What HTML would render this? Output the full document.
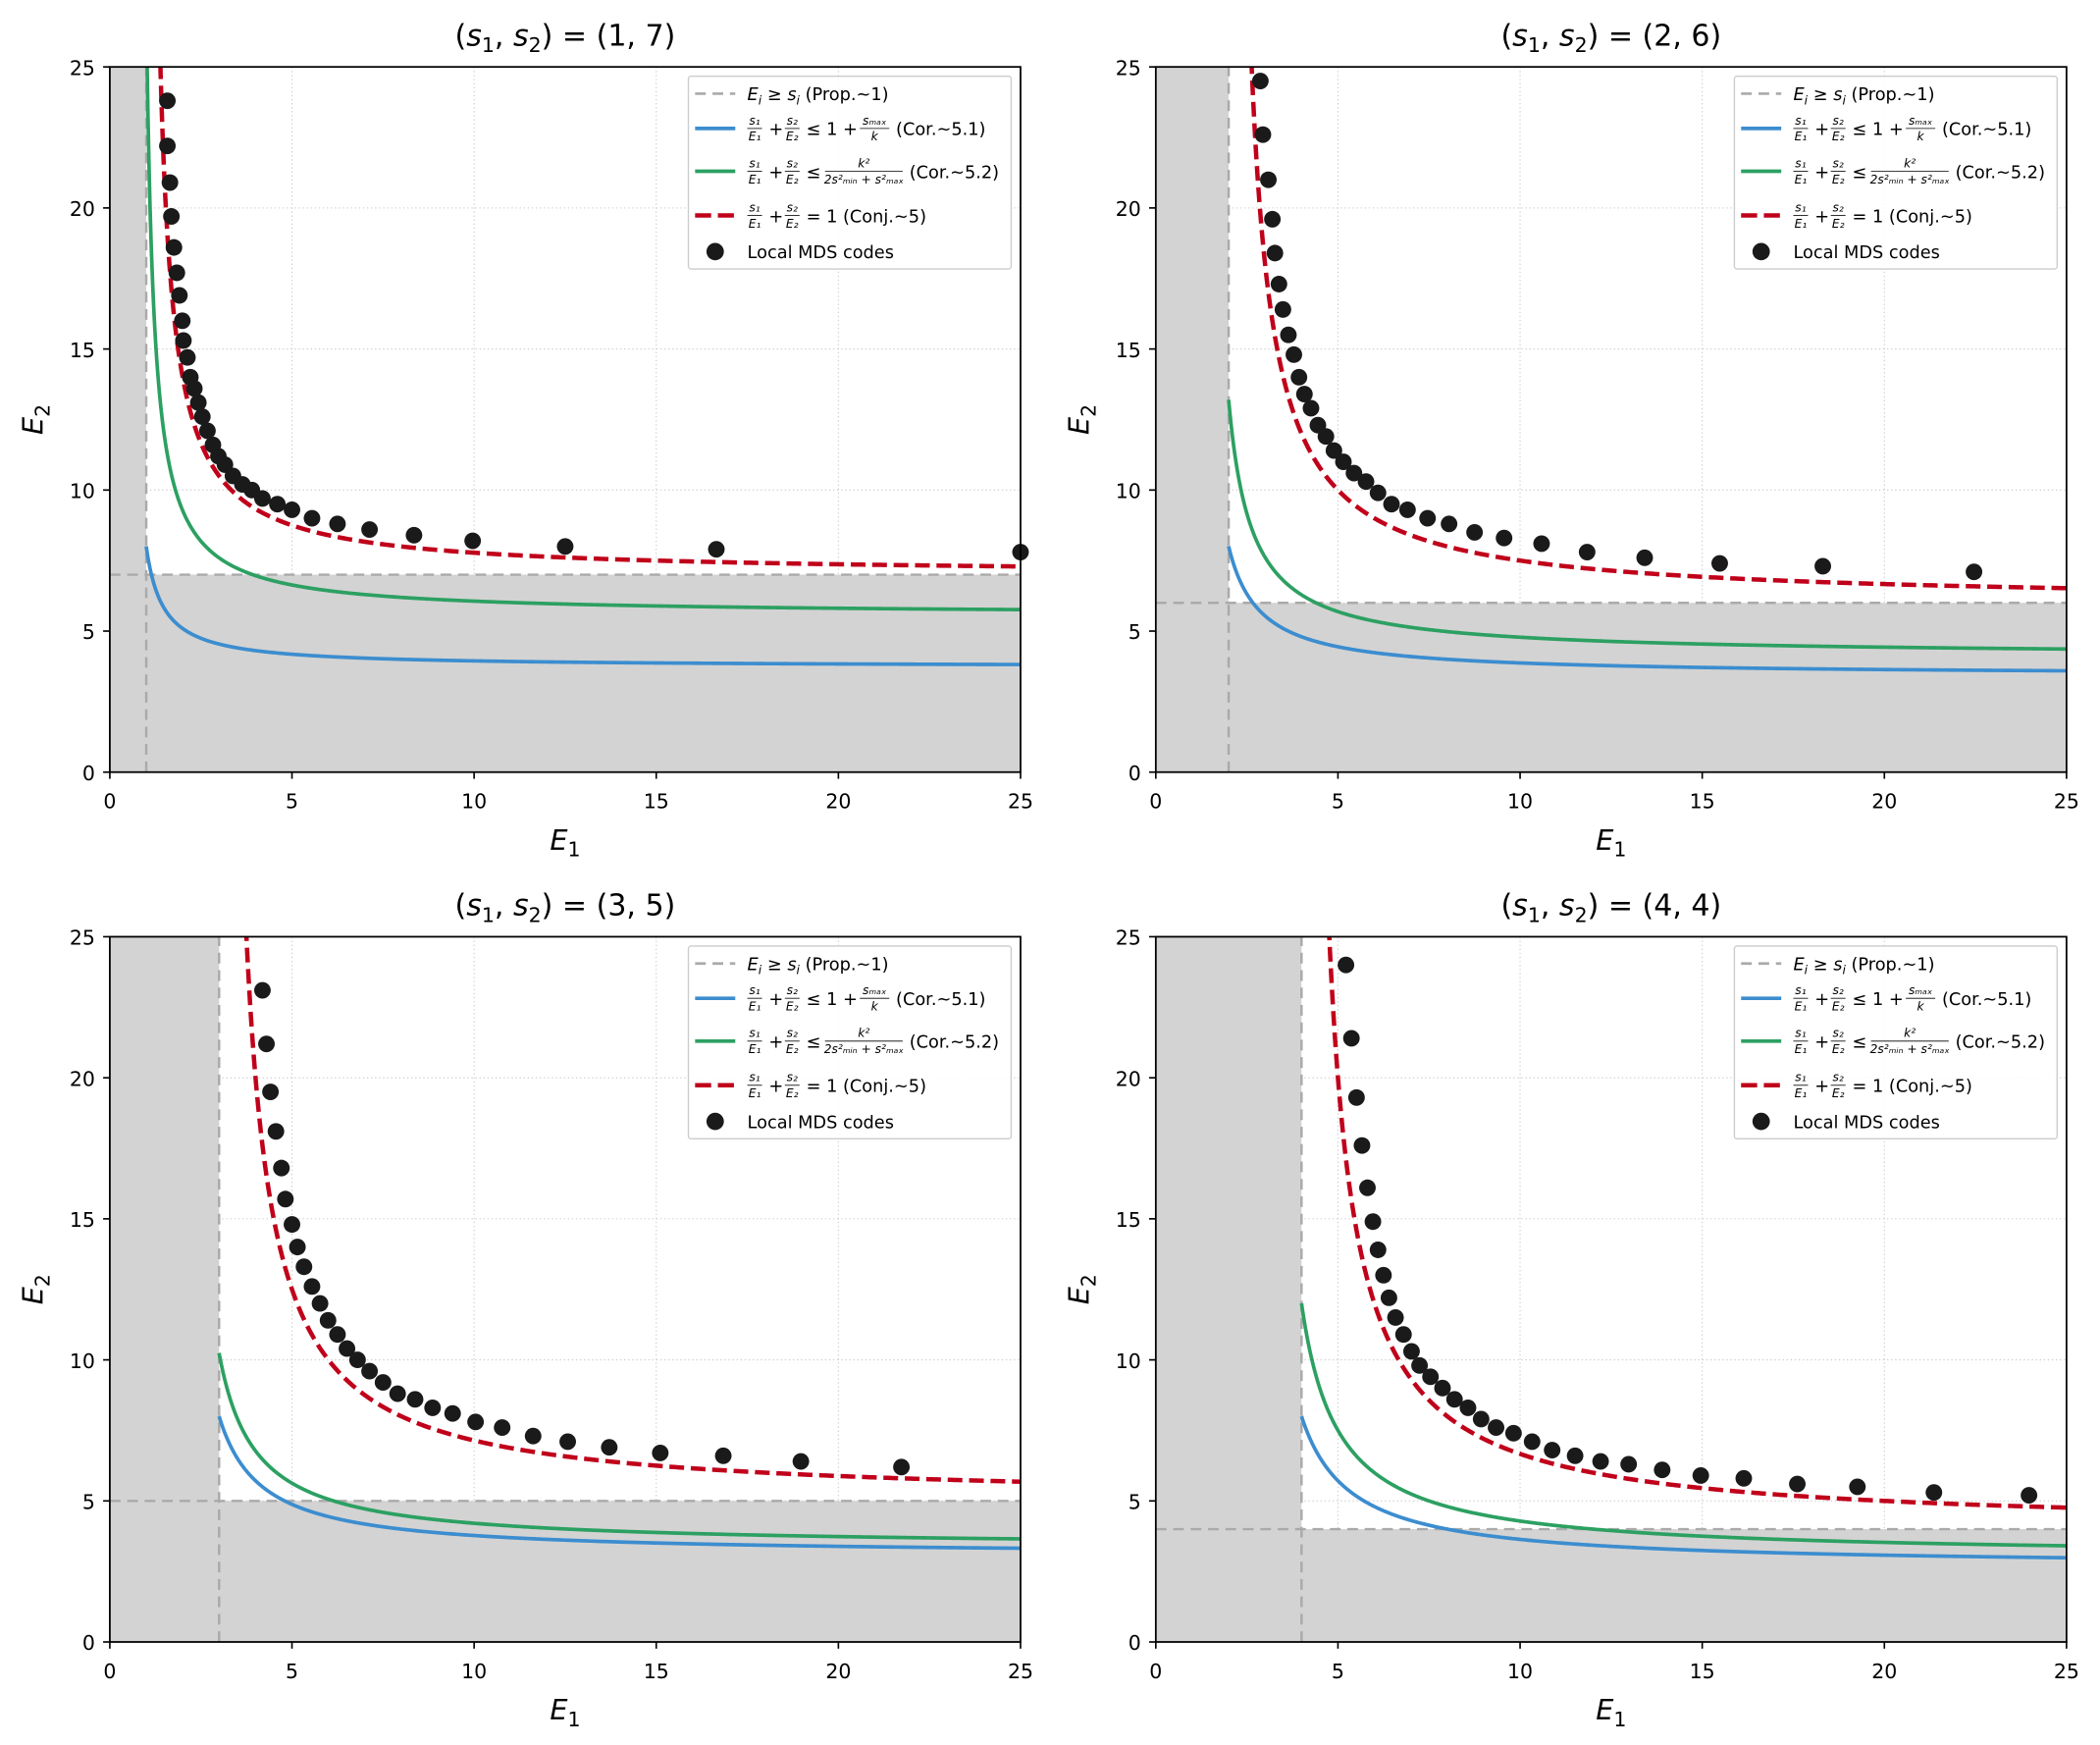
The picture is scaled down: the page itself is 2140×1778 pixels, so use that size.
<!DOCTYPE html>
<html><head><meta charset="utf-8"><style>
html,body{margin:0;padding:0;background:#fff}
svg{display:block}
text{font-family:"DejaVu Sans","Liberation Sans",sans-serif;fill:#000}
</style></head><body>
<svg id="fig" width="2140" height="1778" viewBox="0 0 1568 1304" preserveAspectRatio="none" xmlns="http://www.w3.org/2000/svg"></svg>
<script>
// ---- data ----
const s1Values = [1, 2, 3, 4];
const s2Values = [7, 6, 5, 4];
const xTicks = [0, 5, 10, 15, 20, 25];
const yTicks = [0, 5, 10, 15, 20, 25];
const mdsE1_p1 = [1.58,1.58,1.65,1.69,1.76,1.84,1.91,1.99,2.02,2.13,2.21,2.32,2.43,2.54,2.68,2.83,2.98,3.16,3.38,3.64,3.90,4.19,4.60,5.0,5.55,6.25,7.13,8.35,9.96,12.5,16.65,25];
const mdsE2_p1 = [23.8,22.2,20.9,19.7,18.6,17.7,16.9,16.0,15.3,14.7,14.0,13.6,13.1,12.6,12.1,11.6,11.2,10.9,10.5,10.2,10.0,9.7,9.5,9.3,9.0,8.8,8.6,8.4,8.2,8.0,7.9,7.8];
const mdsE1_p2 = [2.87,2.94,3.09,3.2,3.27,3.38,3.49,3.64,3.79,3.93,4.08,4.26,4.45,4.67,4.89,5.15,5.44,5.77,6.1,6.47,6.91,7.46,8.05,8.75,9.56,10.59,11.84,13.42,15.48,18.31,22.46];
const mdsE2_p2 = [24.5,22.6,21.0,19.6,18.4,17.3,16.4,15.5,14.8,14.0,13.4,12.9,12.3,11.9,11.4,11.0,10.6,10.3,9.9,9.5,9.3,9.0,8.8,8.5,8.3,8.1,7.8,7.6,7.4,7.3,7.1];
const mdsE1_p3 = [4.19,4.30,4.41,4.56,4.71,4.82,5.0,5.15,5.33,5.55,5.77,5.99,6.25,6.51,6.8,7.13,7.5,7.9,8.38,8.86,9.41,10.04,10.77,11.62,12.57,13.71,15.11,16.84,18.97,21.73];
const mdsE2_p3 = [23.1,21.2,19.5,18.1,16.8,15.7,14.8,14.0,13.3,12.6,12.0,11.4,10.9,10.4,10.0,9.6,9.2,8.8,8.6,8.3,8.1,7.8,7.6,7.3,7.1,6.9,6.7,6.6,6.4,6.2];
const mdsE1_p4 = [5.22,5.37,5.51,5.66,5.81,5.96,6.1,6.25,6.4,6.58,6.8,7.02,7.24,7.54,7.87,8.2,8.57,8.93,9.34,9.82,10.33,10.88,11.51,12.21,12.98,13.9,14.96,16.14,17.61,19.26,21.36,23.97];
const mdsE2_p4 = [24.0,21.4,19.3,17.6,16.1,14.9,13.9,13.0,12.2,11.5,10.9,10.3,9.8,9.4,9.0,8.6,8.3,7.9,7.6,7.4,7.1,6.8,6.6,6.4,6.3,6.1,5.9,5.8,5.6,5.5,5.3,5.2];
const mdsE1 = [mdsE1_p1, mdsE1_p2, mdsE1_p3, mdsE1_p4];
const mdsE2 = [mdsE2_p1, mdsE2_p2, mdsE2_p3, mdsE2_p4];

const NS = "http://www.w3.org/2000/svg";
const svg = document.getElementById('fig');
function el(tag, attrs, parent) {
  const e = document.createElementNS(NS, tag);
  for (const k in attrs) e.setAttribute(k, attrs[k]);
  (parent || svg).appendChild(e);
  return e;
}
function txt(x, y, str, size, anchor, parent, extra) {
  const t = el('text', Object.assign({x: x, y: y, 'font-size': size, 'text-anchor': anchor || 'start'}, extra || {}), parent);
  t.textContent = str;
  return t;
}
function frac(g, x, y, num, den, w, size) {
  txt(x + w / 2, y - 3, num, size, 'middle', g, {'font-style': 'italic'});
  el('line', {x1: x, x2: x + w, y1: y, y2: y, stroke: '#000', 'stroke-width': 0.6}, g);
  txt(x + w / 2, y + size, den, size, 'middle', g, {'font-style': 'italic'});
}

const W = 680, H = 527;
const origins = [[82, 50], [863, 50], [82, 700], [863, 700]];

function drawLegend(g, lx, ly) {
  const leg = el('g', {}, g);
  
  
  el('rect', {x: lx, y: ly, width: 241, height: 144, rx: 2, fill: '#fff', 'fill-opacity': 0.85, stroke: '#ccc', 'stroke-width': 1}, leg);
  const sx = lx + 5, tx = lx + 44;
  el('line', {x1: sx, x2: sx + 30, y1: ly + 13, y2: ly + 13, stroke: '#aaa', 'stroke-width': 2, 'stroke-dasharray': '8,5'}, leg);
  const t1 = txt(tx, ly + 18, '', 13, 'start', leg);
  t1.innerHTML = '<tspan font-style="italic">E</tspan><tspan font-size="9" dy="3" font-style="italic">i</tspan><tspan dy="-3"> ≥ </tspan><tspan font-style="italic">s</tspan><tspan font-size="9" dy="3" font-style="italic">i</tspan><tspan dy="-3"> (Prop.~1)</tspan>';
  let ry = ly + 39;
  el('line', {x1: sx, x2: sx + 30, y1: ry, y2: ry, stroke: '#3c8dcf', 'stroke-width': 2.7}, leg);
  frac(leg, tx, ry, 's₁', 'E₁', 11, 9); txt(tx + 16, ry + 5, '+', 13, 'start', leg);
  frac(leg, tx + 28, ry, 's₂', 'E₂', 11, 9); txt(tx + 44, ry + 5, '≤ 1 +', 13, 'start', leg);
  frac(leg, tx + 84, ry, 'sₘₐₓ', 'k', 22, 9); txt(tx + 111, ry + 5, '(Cor.~5.1)', 13, 'start', leg);
  ry = ly + 71;
  el('line', {x1: sx, x2: sx + 30, y1: ry, y2: ry, stroke: '#2ca062', 'stroke-width': 2.7}, leg);
  frac(leg, tx, ry, 's₁', 'E₁', 11, 9); txt(tx + 16, ry + 5, '+', 13, 'start', leg);
  frac(leg, tx + 28, ry, 's₂', 'E₂', 11, 9); txt(tx + 44, ry + 5, '≤', 13, 'start', leg);
  frac(leg, tx + 58, ry, 'k²', '2s²ₘᵢₙ + s²ₘₐₓ', 58, 9); txt(tx + 121, ry + 5, '(Cor.~5.2)', 13, 'start', leg);
  ry = ly + 104;
  el('line', {x1: sx, x2: sx + 30, y1: ry, y2: ry, stroke: '#c0001a', 'stroke-width': 3.3, 'stroke-dasharray': '12,5'}, leg);
  frac(leg, tx, ry, 's₁', 'E₁', 11, 9); txt(tx + 16, ry + 5, '+', 13, 'start', leg);
  frac(leg, tx + 28, ry, 's₂', 'E₂', 11, 9); txt(tx + 44, ry + 5, '= 1 (Conj.~5)', 13, 'start', leg);
  ry = ly + 131;
  el('circle', {cx: sx + 15, cy: ry, r: 6.5, fill: '#1a1a1a'}, leg);
  txt(tx, ry + 5, 'Local MDS codes', 13, 'start', leg);
}

for (let p = 0; p < 4; p++) {
  const [ox, oy] = origins[p];
  const s1 = s1Values[p], s2 = s2Values[p];
  const k = s1 + s2, smax = Math.max(s1, s2), smin = Math.min(s1, s2);
  const xs = v => ox + v / 25 * W;
  const ys = v => oy + H - v / 25 * H;
  const g = el('g', {});
  
  
  const cid = 'clip' + p;
  const cp = el('clipPath', {id: cid}, g);
  el('rect', {x: ox, y: oy, width: W, height: H}, cp);

  const grid = el('g', {}, g);
  
  
  xTicks.forEach(t => el('line', {x1: xs(t), x2: xs(t), y1: oy, y2: oy + H, stroke: '#ccc', 'stroke-width': 0.8, 'stroke-dasharray': '1,2'}, grid));
  yTicks.forEach(t => el('line', {x1: ox, x2: ox + W, y1: ys(t), y2: ys(t), stroke: '#ccc', 'stroke-width': 0.8, 'stroke-dasharray': '1,2'}, grid));

  const sh = el('path', {d: `M${xs(0)},${ys(0)} L${xs(0)},${ys(25)} L${xs(s1)},${ys(25)} L${xs(s1)},${ys(s2)} L${xs(25)},${ys(s2)} L${xs(25)},${ys(0)} Z`, fill: '#d3d3d3'}, g);
  
  
  el('line', {x1: xs(s1), x2: xs(s1), y1: ys(0), y2: ys(25), stroke: '#aaa', 'stroke-width': 1.8, 'stroke-dasharray': '8,5'}, g);
  el('line', {x1: xs(0), x2: xs(25), y1: ys(s2), y2: ys(s2), stroke: '#aaa', 'stroke-width': 1.8, 'stroke-dasharray': '8,5'}, g);

  const curves = [
    {name: 'cor-5-1-curve', c: 1 + smax / k, color: '#3c8dcf', w: 2.7, dash: null},
    {name: 'cor-5-2-curve', c: k * k / (2 * smin * smin + smax * smax), color: '#2ca062', w: 2.7, dash: null},
    {name: 'conj-5-curve', c: 1, color: '#c0001a', w: 3.3, dash: '11,5'}
  ];
  curves.forEach(cv => {
    let d = '';
    for (let i = 0; i <= 600; i++) {
      const e1 = s1 + 0.0001 + (25 - s1) * Math.pow(i / 600, 2);
      const den = cv.c - s1 / e1;
      if (den <= 0) continue;
      let e2 = s2 / den;
      if (e2 > 40) e2 = 40;
      d += (d ? 'L' : 'M') + xs(e1).toFixed(2) + ',' + ys(e2).toFixed(2);
    }
    const path = el('path', {d: d, fill: 'none', stroke: cv.color, 'stroke-width': cv.w, 'clip-path': `url(#${cid})`}, g);
    if (cv.dash) path.setAttribute('stroke-dasharray', cv.dash);
    
    
  });

  mdsE1[p].forEach((e1, i) => {
    const c = el('circle', {cx: xs(e1), cy: ys(mdsE2[p][i]), r: 6.2, fill: '#1a1a1a'}, g);
    
    
  });

  el('rect', {x: ox, y: oy, width: W, height: H, fill: 'none', stroke: '#000', 'stroke-width': 1.3}, g);

  xTicks.forEach(t => {
    el('line', {x1: xs(t), x2: xs(t), y1: oy + H, y2: oy + H + 5, stroke: '#000', 'stroke-width': 1.2}, g);
    const tl = txt(xs(t), oy + H + 27, String(t), 15, 'middle', g);
    
    
  });
  yTicks.forEach(t => {
    el('line', {x1: ox - 5, x2: ox, y1: ys(t), y2: ys(t), stroke: '#000', 'stroke-width': 1.2}, g);
    const tl = txt(ox - 11, ys(t) + 6, String(t), 15, 'end', g);
    
    
  });

  const xl = txt(ox + W / 2, oy + H + 58, '', 21, 'middle', g);
  xl.innerHTML = '<tspan font-style="italic">E</tspan><tspan font-size="15" dy="5">1</tspan>';
  
  
  const yl = txt(0, 0, '', 21, 'middle', g, {transform: `translate(${ox - 50},${oy + H / 2}) rotate(-90)`});
  yl.innerHTML = '<tspan font-style="italic">E</tspan><tspan font-size="15" dy="5">2</tspan>';
  
  

  const tt = txt(ox + W / 2, oy - 16, '', 22, 'middle', g);
  tt.innerHTML = `(<tspan font-style="italic">s</tspan><tspan font-size="15" dy="5">1</tspan><tspan dy="-5">, </tspan><tspan font-style="italic">s</tspan><tspan font-size="15" dy="5">2</tspan><tspan dy="-5">) = (${s1}, ${s2})</tspan>`;
  
  

  drawLegend(g, ox + 432, oy + 7);
}
</script>
</body></html>
